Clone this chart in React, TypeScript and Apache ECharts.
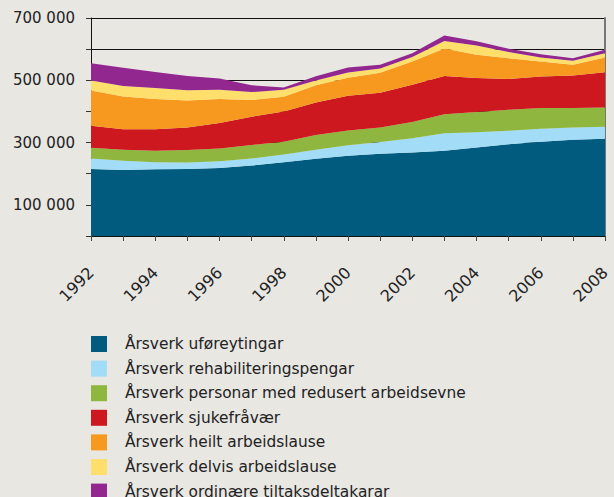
import React, { useEffect, useRef } from "react";
import * as echarts from "echarts";

const years = ["1992","1993","1994","1995","1996","1997","1998","1999","2000","2001","2002","2003","2004","2005","2006","2007","2008"];

const seriesNames = [
  "Årsverk uføreytingar",
  "Årsverk rehabiliteringspengar",
  "Årsverk personar med redusert arbeidsevne",
  "Årsverk sjukefråvær",
  "Årsverk heilt arbeidslause",
  "Årsverk delvis arbeidslause",
  "Årsverk ordinære tiltaksdeltakarar",
];

const uforeytingar = [215000,212000,214000,215000,218000,226000,237000,248000,258000,264000,268000,274000,284000,295000,303000,309000,312000];
const rehabilitering = [34000,30000,23000,21000,22000,23000,25000,29000,33000,38000,46000,56000,49000,43000,41000,39000,39000];
const redusertArbeidsevne = [34000,35000,37000,40000,41000,43000,41000,47000,48000,46000,52000,61000,65000,67000,67000,63000,62000];
const sjukefravaer = [71000,66000,69000,72000,82000,91000,97000,105000,111000,112000,120000,123000,109000,99000,101000,104000,113000];
const heiltArbeidslause = [113000,105000,97000,87000,77000,54000,47000,55000,58000,64000,74000,88000,75000,67000,48000,35000,47000];
const delvisArbeidslause = [32000,34000,35000,33000,30000,25000,23000,15000,17000,14000,15000,24000,30000,20000,13000,13000,14000];
const tiltaksdeltakarar = [56000,58000,52000,46000,36000,22000,7000,14000,16000,12000,12000,18000,13000,10000,11000,8000,11000];

const seriesValues = [
  uforeytingar,
  rehabilitering,
  redusertArbeidsevne,
  sjukefravaer,
  heiltArbeidslause,
  delvisArbeidslause,
  tiltaksdeltakarar,
];

const colors = ["#015b7e", "#a2dcf7", "#8fb73f", "#ce1820", "#f7991f", "#ffdf6b", "#92278f"];

const fmt = (v: number) => {
  const s = String(Math.round(v));
  return s.replace(/\B(?=(\d{3})+(?!\d))/g, " ");
};

const W = 614;
const H = 530;

export default function App() {
  const ref = useRef<HTMLDivElement>(null);
  useEffect(() => {
    document.body.style.margin = "0";
    document.body.style.overflow = "hidden";
    document.documentElement.style.overflow = "hidden";
    document.body.style.background = "#e8e7e2";
    const chart = echarts.init(ref.current!, null, { renderer: "svg" });
    const font = "DejaVu Sans";
    chart.setOption({
      animation: false,
      backgroundColor: "#e8e7e2",
      textStyle: { fontFamily: font },
      grid: { left: 91, right: 9, top: 18, bottom: H - 236, containLabel: false },
      legend: {
        orient: "vertical",
        left: 91,
        top: 336,
        padding: 0,
        itemWidth: 16,
        itemHeight: 16,
        itemGap: 8.6,
        icon: "rect",
        data: seriesNames,
        textStyle: { fontFamily: font, fontSize: 15.4, color: "#222", padding: [0, 0, 0, 13], lineHeight: 16 },
        selectedMode: false,
      },
      xAxis: {
        type: "category",
        data: years,
        boundaryGap: false,
        axisLine: { lineStyle: { color: "#111", width: 1 } },
        axisTick: { show: true, interval: 0, length: 5, lineStyle: { color: "#444" } },
        axisLabel: {
          interval: 1,
          rotate: 45,
          margin: 34,
          fontSize: 16,
          color: "#222",
          fontFamily: font,
        },
        splitLine: { show: false },
      },
      yAxis: [
        {
          type: "value",
          min: 0,
          max: 700000,
          interval: 100000,
          axisLine: { show: true, lineStyle: { color: "#111", width: 1 } },
          axisTick: { show: true, length: 5, lineStyle: { color: "#333" } },
          axisLabel: {
            fontSize: 15,
            color: "#222",
            margin: 16,
            fontFamily: font,
            formatter: (v: number) => (Math.round(v / 100000) % 2 === 1 ? fmt(v) : ""),
          },
          splitLine: { show: true, lineStyle: { color: "#111", width: 1 } },
        },
        {
          type: "value",
          min: 0,
          max: 700000,
          interval: 100000,
          position: "right",
          axisLine: { show: true, lineStyle: { color: "#777", width: 2 } },
          axisTick: { show: false },
          axisLabel: { show: false },
          splitLine: { show: false },
        },
      ],
      series: seriesNames.map((name, i) => ({
        name,
        type: "line",
        stack: "total",
        data: seriesValues[i],
        symbol: "none",
        smooth: false,
        color: colors[i],
        itemStyle: { color: colors[i] },
        lineStyle: { width: 0 },
        areaStyle: { color: colors[i], opacity: 1 },
        z: 2,
      })),
    });
    return () => chart.dispose();
  }, []);
  return <div ref={ref} style={{ width: W, height: H }} />;
}
